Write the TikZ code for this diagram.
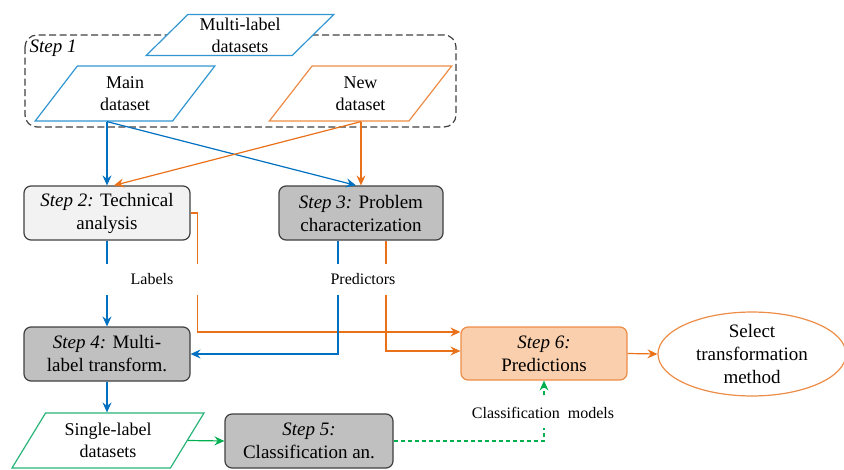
\documentclass[tikz,border=0pt]{standalone}
\usepackage{fontspec}
\setmainfont{Liberation Serif}
\usetikzlibrary{shapes.geometric,arrows.meta,calc}
\definecolor{flowblue}{RGB}{0,112,192}
\definecolor{dsblue}{RGB}{50,150,210}
\definecolor{floworange}{RGB}{232,113,26}
\definecolor{dsorange}{RGB}{237,140,70}
\definecolor{flowgreen}{RGB}{0,176,80}
\definecolor{dsgreen}{RGB}{40,180,120}
\definecolor{stepgray}{RGB}{192,192,192}
\definecolor{peach}{RGB}{249,207,174}
\begin{document}
\begin{tikzpicture}[x=1pt, y=-1pt, line width=1.2pt,
    every node/.style={font=\fontsize{19}{23}\selectfont, align=center},
    dataset/.style={trapezium, trapezium stretches=true, trapezium left angle=#1,
      trapezium right angle=180-#1, fill=white, inner sep=0pt,
      font=\fontsize{18}{22}\selectfont},
    stepbox/.style={rectangle, rounded corners=7pt, draw=black!75, inner sep=0pt,
      minimum height=54pt},
    tag/.style={fill=white, inner sep=0pt, font=\fontsize{16}{19}\selectfont},
    arr/.style={-{Stealth[length=10pt,width=9pt,inset=3.5pt]}},
  ]
    \useasboundingbox (0,0) rectangle (844,469);
    % step 1 group
    \draw[black!75, rounded corners=12pt, dash pattern=on 7pt off 3.5pt] (25,35) rectangle (456,127);
    \node[anchor=north west, inner sep=0pt] (st1) at (29,39) {\textit{Step 1}};
    \node[dataset=47, draw=dsblue, minimum width=188pt, minimum height=41pt] (ml) at (240,35) {Multi-label\\datasets};
    \node[dataset=57, draw=dsblue, minimum width=180pt, minimum height=55pt] (main) at (125,93.5) {Main\\dataset};
    \node[dataset=57, draw=dsorange, minimum width=183pt, minimum height=55pt] (new) at (360.5,93.5) {New\\dataset};
    % steps
    \node[stepbox, fill=black!5, minimum width=166pt] (s2) at (107,213) {\textit{Step 2:} Technical\\analysis};
    \node[stepbox, fill=stepgray, minimum width=164pt] (s3) at (361,213) {\textit{Step 3:} Problem\\characterization};
    \node[stepbox, fill=stepgray, minimum width=166pt] (s4) at (107,354) {\textit{Step 4:} Multi-\\label transform.};
    \node[dataset=56, draw=dsgreen, minimum width=192pt, minimum height=55pt] (sl) at (108,440.5) {Single-label\\datasets};
    \node[stepbox, fill=stepgray, minimum width=168pt] (s5) at (309,441) {\textit{Step 5:}\\Classification an.};
    \node[stepbox, fill=peach, draw=dsorange, minimum width=166pt, minimum height=53pt] (s6) at (544,353.5) {\textit{Step 6:}\\Predictions};
    \node[ellipse, draw=dsorange, minimum width=188pt, minimum height=68pt, inner sep=0pt] (sel) at (752,354) {Select\\transformation\\method};
    % connectors
    \draw[arr, flowblue] (s2.north |- main.south) -- (s2.north);
    \draw[arr, flowblue] (s2.north |- main.south) -- ($(s3.north)+(-5,0)$);
    \draw[arr, floworange] (s3.north |- new.south) -- (s3.north);
    \draw[arr, floworange] (s3.north |- new.south) -- ($(s2.north)+(7,0)$);
    \draw[arr, flowblue] (s2.south) -- (s4.north);
    \draw[arr, floworange] (s2.east) -- ++(7,0) |- ($(s6.west)+(0,-21.5)$);
    \draw[arr, floworange] ($(s3.south)+(25,0)$) |- ($(s6.west)+(0,-2.5)$);
    \draw[arr, flowblue] ($(s3.south)+(-23,0)$) |- (s4.east);
    \draw[arr, flowblue] (s4.south) -- (s4.south |- sl.north);
    \draw[arr, flowgreen] (sl.east) -- (s5.west);
    \draw[arr, flowgreen, dash pattern=on 4pt off 3pt] (s5.east) -| (s6.south);
    \draw[arr, floworange] (s6.east) -- (sel.west);
    % labels over the lines
    \node[tag, minimum width=100pt, minimum height=31pt] (lab) at (152,279.5) {Labels};
    \node[tag, minimum width=72pt, minimum height=31pt] (pred) at (363,279.5) {Predictors};
    \node[tag, minimum height=30pt] (cm) at (543,413) {Classification\ \ models};
\end{tikzpicture}
\end{document}
